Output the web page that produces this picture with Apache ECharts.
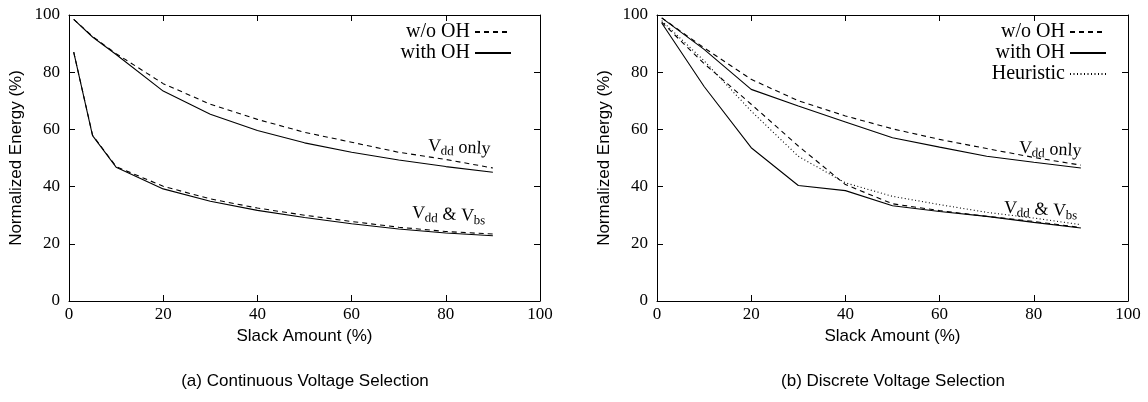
<!DOCTYPE html>
<html>
<head>
<meta charset="utf-8">
<script src="https://cdn.jsdelivr.net/npm/echarts@6/dist/echarts.min.js"></script>
<style>
html,body{margin:0;padding:0;background:#fff;}
#chart{width:1148px;height:402px;}
</style>
</head>
<body>
<div id="chart"></div>
<script>
// ---- data ----
var contX = [1, 5, 10, 20, 30, 40, 50, 60, 70, 80, 90];
var contVddWo   = [98.5, 92.5, 86.5, 76.0, 68.8, 63.5, 59.0, 55.5, 52.0, 49.5, 46.5];
var contVddWith = [98.5, 92.3, 86.2, 73.4, 65.3, 59.6, 55.3, 52.0, 49.3, 47.0, 45.0];
var contBothWo   = [87.0, 58.0, 47.0, 40.1, 35.7, 32.5, 30.0, 27.8, 25.8, 24.3, 23.4];
var contBothWith = [87.0, 57.8, 46.8, 39.2, 34.9, 31.7, 29.2, 27.0, 25.2, 23.8, 22.8];

var discX = [1, 10, 20, 30, 40, 50, 60, 70, 80, 90];
var discVddWo   = [99.0, 88.5, 77.5, 70.0, 64.7, 60.2, 56.5, 53.3, 50.2, 47.5];
var discVddWith = [99.0, 88.0, 74.0, 68.2, 62.6, 57.1, 53.8, 50.6, 48.5, 46.5];
var discBothWo   = [97.5, 83.0, 68.8, 54.2, 40.7, 34.0, 31.6, 29.6, 27.8, 25.7];
var discBothWith = [97.2, 75.0, 53.6, 40.4, 38.6, 33.3, 31.3, 29.6, 27.5, 25.5];
var discHeur     = [98.0, 84.0, 66.4, 50.6, 41.3, 36.6, 33.7, 31.0, 29.0, 26.7];

var xTicks = [0, 20, 40, 60, 80, 100];
var yTicks = [0, 20, 40, 60, 80, 100];
var xName = 'Slack Amount (%)';
var yName = 'Normalized Energy (%)';
var captions = ['(a) Continuous Voltage Selection', '(b) Discrete Voltage Selection'];
var legendNames = ['w/o OH', 'with OH', 'Heuristic'];

// ---- layout ----
var G = [{left: 69, top: 15, width: 471, height: 286}, {left: 657, top: 15, width: 471, height: 286}];
var SERIF = '"Liberation Serif","DejaVu Serif",serif';
var SANS = '"Liberation Sans",Arial,sans-serif';

function pair(xs, ys) { return xs.map(function (x, i) { return [x, ys[i]]; }); }

var xAxes = [], yAxes = [];
G.forEach(function (g, gi) {
  var base = {
    type: 'value', min: xTicks[0], max: xTicks[xTicks.length - 1], interval: 20, gridIndex: gi,
    splitLine: {show: false},
    axisLine: {show: true, onZero: false, lineStyle: {color: '#000', width: 1}},
    axisTick: {show: true, inside: true, length: 6, lineStyle: {color: '#000'}}
  };
  xAxes.push(Object.assign({}, base, {
    position: 'bottom', name: xName, nameLocation: 'middle', nameGap: 26,
    nameTextStyle: {fontFamily: SANS, fontSize: 17, color: '#000'},
    axisLabel: {fontFamily: SERIF, fontSize: 17, color: '#000', margin: 5}
  }));
  xAxes.push(Object.assign({}, base, {position: 'top', axisLabel: {show: false}}));
  var ybase = Object.assign({}, base, {min: yTicks[0], max: yTicks[yTicks.length - 1]});
  yAxes.push(Object.assign({}, ybase, {
    position: 'left', name: yName, nameLocation: 'middle', nameGap: 44,
    nameTextStyle: {fontFamily: SANS, fontSize: 17, color: '#000'},
    axisLabel: {fontFamily: SERIF, fontSize: 17, color: '#000', margin: 9}
  }));
  yAxes.push(Object.assign({}, ybase, {position: 'right', axisLabel: {show: false}}));
});

var styles = {
  'w/o OH': {type: [5, 4], width: 1.1},
  'with OH': {type: 'solid', width: 1.1},
  'Heuristic': {type: [1, 2.5], width: 1.1}
};
function line(name, gi, xs, ys) {
  return {
    type: 'line', name: name, xAxisIndex: gi * 2, yAxisIndex: gi * 2,
    data: pair(xs, ys), symbol: 'none', showSymbol: false, silent: true,
    lineStyle: Object.assign({color: '#000'}, styles[name]),
    itemStyle: {color: '#000'}
  };
}
var series = [
  line('w/o OH', 0, contX, contVddWo),
  line('with OH', 0, contX, contVddWith),
  line('w/o OH', 0, contX, contBothWo),
  line('with OH', 0, contX, contBothWith),
  line('w/o OH', 1, discX, discVddWo),
  line('with OH', 1, discX, discVddWith),
  line('w/o OH', 1, discX, discBothWo),
  line('with OH', 1, discX, discBothWith),
  line('Heuristic', 1, discX, discHeur)
];

function legend(right, names) {
  return {
    orient: 'vertical', right: right, top: 22, align: 'right', padding: 0,
    itemWidth: 36, itemHeight: 12, itemGap: 1, selectedMode: false,
    itemStyle: {opacity: 0},
    textStyle: {fontFamily: SERIF, fontSize: 20, color: '#000'},
    data: names
  };
}

var rich = {
  v: {fontFamily: SERIF, fontSize: 18, color: '#000'},
  s: {fontFamily: SERIF, fontSize: 13, color: '#000', padding: [9, 0, 0, 0]},
  n: {fontFamily: SERIF, fontSize: 18, color: '#000'}
};
function annot(x, y, txt) {
  return {type: 'text', x: x, y: y, rotation: -0.05,
    style: {text: txt, rich: rich, align: 'left', verticalAlign: 'middle'}};
}

var graphics = [
  annot(428, 146, '{v|V}{s|dd}{n| only}'),
  annot(412, 213, '{v|V}{s|dd}{n| & V}{s|bs}'),
  annot(1019, 148, '{v|V}{s|dd}{n| only}'),
  annot(1004, 208, '{v|V}{s|dd}{n| & V}{s|bs}'),
  {type: 'text', x: 305, y: 381, style: {text: captions[0], fontFamily: SANS, fontSize: 17, fill: '#000', align: 'center', verticalAlign: 'middle'}},
  {type: 'text', x: 893, y: 381, style: {text: captions[1], fontFamily: SANS, fontSize: 17, fill: '#000', align: 'center', verticalAlign: 'middle'}}
];

var chart = echarts.init(document.getElementById('chart'), null, {renderer: 'canvas'});
chart.setOption({
  animation: false,
  backgroundColor: '#fff',
  grid: G.map(function (g) { return Object.assign({containLabel: false}, g); }),
  xAxis: xAxes,
  yAxis: yAxes,
  legend: [legend(1148 - 512, legendNames.slice(0, 2)), legend(1148 - 1107, legendNames)],
  series: series,
  graphic: graphics
});
</script>
</body>
</html>
